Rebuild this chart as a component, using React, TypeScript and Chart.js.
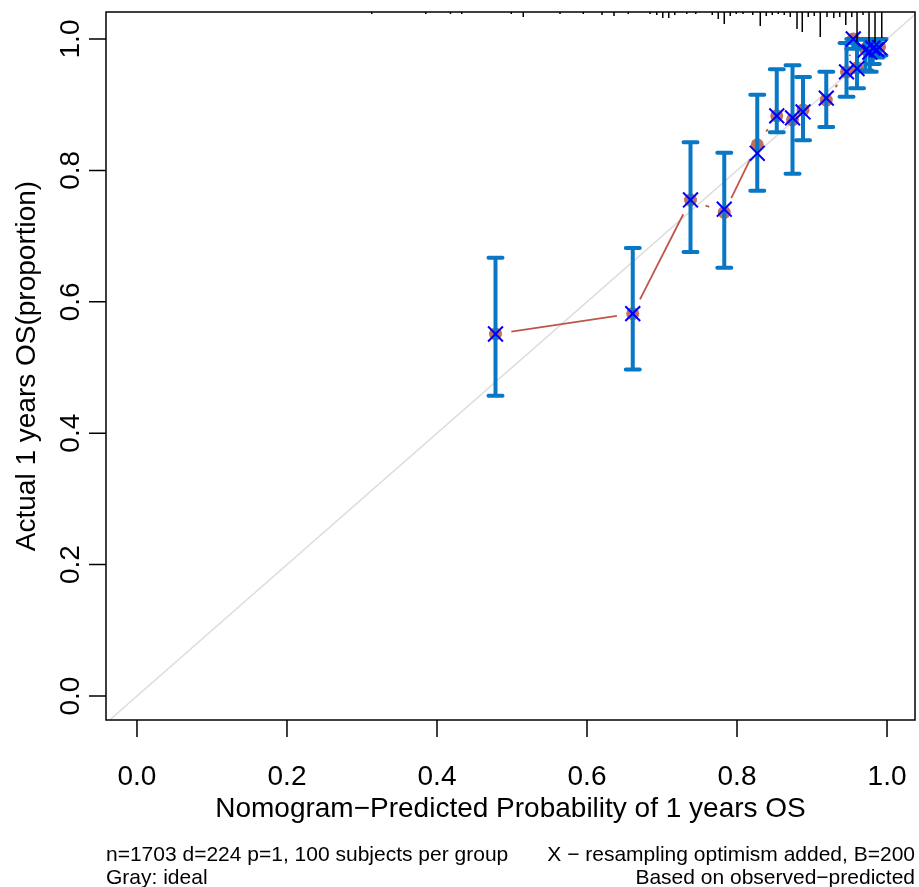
import React, { useEffect, useRef } from "react";
import { Chart, registerables } from "chart.js";

Chart.register(...registerables);

// ---- data ----
const predicted = [0.478, 0.661, 0.738, 0.783, 0.827, 0.853, 0.874, 0.888, 0.919, 0.946, 0.955, 0.960, 0.971, 0.977, 0.981, 0.986, 0.990];
const observed = [0.551, 0.582, 0.755, 0.736, 0.839, 0.883, 0.877, 0.892, 0.907, 0.950, 1.0, 0.956, 0.985, 0.987, 0.982, 0.990, 0.988];
const corrected = [0.551, 0.582, 0.755, 0.741, 0.826, 0.883, 0.880, 0.889, 0.910, 0.950, 1.0, 0.955, 0.983, 0.980, 0.986, 0.984, 0.987];
const ciLower = [0.457, 0.497, 0.676, 0.652, 0.769, 0.858, 0.795, 0.846, 0.866, 0.912, 0.985, 0.925, 0.952, 0.950, 0.962, 0.972, 0.975];
const ciUpper = [0.667, 0.682, 0.843, 0.827, 0.915, 0.954, 0.960, 0.942, 0.950, 0.994, 1.0, 0.999, 1.0, 1.0, 1.0, 1.0, 1.0];

const rugX = [0.313, 0.385, 0.418, 0.433, 0.499, 0.515, 0.564, 0.595, 0.620, 0.636, 0.655, 0.684, 0.693, 0.701, 0.709, 0.717, 0.733, 0.745, 0.767, 0.775, 0.783, 0.791, 0.799, 0.808, 0.821, 0.831, 0.839, 0.847, 0.855, 0.863, 0.871, 0.880, 0.887, 0.895, 0.903, 0.911, 0.920, 0.929, 0.937, 0.945, 0.953, 0.960, 0.968, 0.976, 0.984, 0.993];
const rugCount = [1, 1, 1, 1, 1, 5, 1, 1, 3, 4, 1, 1, 3, 6, 6, 3, 1, 1, 3, 7, 12, 4, 1, 1, 3, 14, 4, 3, 1, 3, 5, 17, 20, 5, 4, 25, 5, 6, 5, 13, 5, 30, 3, 30, 30, 26];

const tickValues = [0, 0.2, 0.4, 0.6, 0.8, 1.0];
const tickLabels = ["0.0", "0.2", "0.4", "0.6", "0.8", "1.0"];
const xTitle = "Nomogram\u2212Predicted Probability of 1 years OS";
const yTitle = "Actual 1 years OS(proportion)";
const footLeft = ["n=1703 d=224 p=1, 100 subjects per group", "Gray: ideal"];
const footRight = ["X \u2212 resampling optimism added, B=200", "Based on observed\u2212predicted"];
const idealLine = [-0.1, 1.1];

// ---- styles ----
const FONT = '"Liberation Sans", Arial, Helvetica, sans-serif';
const LINE_COLOR = "#C0564A";
const DOT_COLOR = "#C4705E";
const BAR_COLOR = "#0877C6";
const X_COLOR = "#0000FF";

const calPlugin = {
  id: "calPlugin",
  afterDatasetDraw(chart: any, args: any) {
    if (args.index !== 1) return;
    const { ctx, scales } = chart;
    const xs = scales.x, ys = scales.y;
    ctx.save();
    // apparent line with gaps around points (type "b")
    const gap = 16;
    ctx.strokeStyle = LINE_COLOR;
    ctx.lineWidth = 1.8;
    for (let i = 0; i < predicted.length - 1; i++) {
      const x1 = xs.getPixelForValue(predicted[i]);
      const y1 = ys.getPixelForValue(observed[i]);
      const x2 = xs.getPixelForValue(predicted[i + 1]);
      const y2 = ys.getPixelForValue(observed[i + 1]);
      const d = Math.hypot(x2 - x1, y2 - y1);
      if (d <= 2 * gap) continue;
      const ux = (x2 - x1) / d, uy = (y2 - y1) / d;
      ctx.beginPath();
      ctx.moveTo(x1 + ux * gap, y1 + uy * gap);
      ctx.lineTo(x2 - ux * gap, y2 - uy * gap);
      ctx.stroke();
    }
    // error bars
    ctx.strokeStyle = BAR_COLOR;
    ctx.lineWidth = 4;
    ctx.lineCap = "round";
    const cap = 7;
    for (let i = 0; i < predicted.length; i++) {
      const px = xs.getPixelForValue(predicted[i]);
      const lo = ys.getPixelForValue(ciLower[i]);
      const hi = ys.getPixelForValue(ciUpper[i]);
      ctx.beginPath();
      ctx.moveTo(px, lo);
      ctx.lineTo(px, hi);
      ctx.moveTo(px - cap, lo);
      ctx.lineTo(px + cap, lo);
      ctx.moveTo(px - cap, hi);
      ctx.lineTo(px + cap, hi);
      ctx.stroke();
    }
    ctx.restore();
  },
  afterDraw(chart: any) {
    const { ctx, chartArea: a, scales } = chart;
    const xs = scales.x, ys = scales.y;
    ctx.save();
    // box
    ctx.strokeStyle = "#000";
    ctx.lineWidth = 1.5;
    ctx.strokeRect(a.left, a.top, a.right - a.left, a.bottom - a.top);
    // ticks
    const tl = 17;
    ctx.beginPath();
    for (const v of tickValues) {
      const px = xs.getPixelForValue(v);
      ctx.moveTo(px, a.bottom);
      ctx.lineTo(px, a.bottom + tl);
      const py = ys.getPixelForValue(v);
      ctx.moveTo(a.left, py);
      ctx.lineTo(a.left - tl, py);
    }
    ctx.stroke();
    // rug (histogram spikes on top)
    const maxC = Math.max(...rugCount);
    ctx.lineWidth = 1.5;
    ctx.beginPath();
    for (let i = 0; i < rugX.length; i++) {
      const px = xs.getPixelForValue(rugX[i]);
      const len = Math.max(2, (rugCount[i] / maxC) * 30);
      ctx.moveTo(px, a.top);
      ctx.lineTo(px, a.top + len);
    }
    ctx.stroke();
    // tick labels
    ctx.fillStyle = "#000";
    ctx.font = `28px ${FONT}`;
    ctx.textAlign = "center";
    ctx.textBaseline = "alphabetic";
    tickValues.forEach((v, i) => {
      ctx.fillText(tickLabels[i], xs.getPixelForValue(v), 785);
    });
    tickValues.forEach((v, i) => {
      ctx.save();
      ctx.translate(79, ys.getPixelForValue(v));
      ctx.rotate(-Math.PI / 2);
      ctx.fillText(tickLabels[i], 0, 0);
      ctx.restore();
    });
    // axis titles
    ctx.fillText(xTitle, (a.left + a.right) / 2, 817);
    ctx.save();
    ctx.translate(35, (a.top + a.bottom) / 2);
    ctx.rotate(-Math.PI / 2);
    ctx.fillText(yTitle, 0, 0);
    ctx.restore();
    // footnotes
    ctx.font = `21px ${FONT}`;
    ctx.textAlign = "left";
    ctx.fillText(footLeft[0], a.left, 861);
    ctx.fillText(footLeft[1], a.left, 884);
    ctx.textAlign = "right";
    ctx.fillText(footRight[0], a.right, 861);
    ctx.fillText(footRight[1], a.right, 884);
    ctx.restore();
  },
};

export default function App() {
  const ref = useRef<HTMLCanvasElement | null>(null);
  useEffect(() => {
    document.body.style.margin = "0";
    const canvas = ref.current!;
    const chart = new Chart(canvas, {
      type: "scatter",
      data: {
        datasets: [
          {
            label: "corrected",
            data: predicted.map((p, i) => ({ x: p, y: corrected[i] })),
            pointStyle: "crossRot",
            pointRadius: 10.5,
            borderColor: X_COLOR,
            borderWidth: 2,
            backgroundColor: X_COLOR,
          },
          {
            label: "apparent",
            data: predicted.map((p, i) => ({ x: p, y: observed[i] })),
            pointStyle: "circle",
            pointRadius: 6.5,
            borderWidth: 0,
            backgroundColor: DOT_COLOR,
          },
          {
            label: "ideal",
            data: idealLine.map((v) => ({ x: v, y: v })),
            showLine: true,
            pointRadius: 0,
            borderColor: "#DDDDDD",
            borderWidth: 1.5,
            clip: 0,
          } as any,
        ],
      },
      options: {
        animation: false,
        responsive: false,
        devicePixelRatio: 1,
        layout: { autoPadding: false, padding: { left: 106, top: 12, right: 4, bottom: 167 } },
        scales: {
          x: { type: "linear", min: -0.0413, max: 1.0373, display: false },
          y: { type: "linear", min: -0.0365, max: 1.0411, display: false },
        },
        plugins: { legend: { display: false }, tooltip: { enabled: false } },
        events: [],
      } as any,
      plugins: [calPlugin],
    });
    return () => chart.destroy();
  }, []);
  return (
    <div style={{ position: "fixed", left: 0, top: 0, width: 919, height: 887, background: "#fff" }}>
      <canvas ref={ref} width={919} height={887} />
    </div>
  );
}
